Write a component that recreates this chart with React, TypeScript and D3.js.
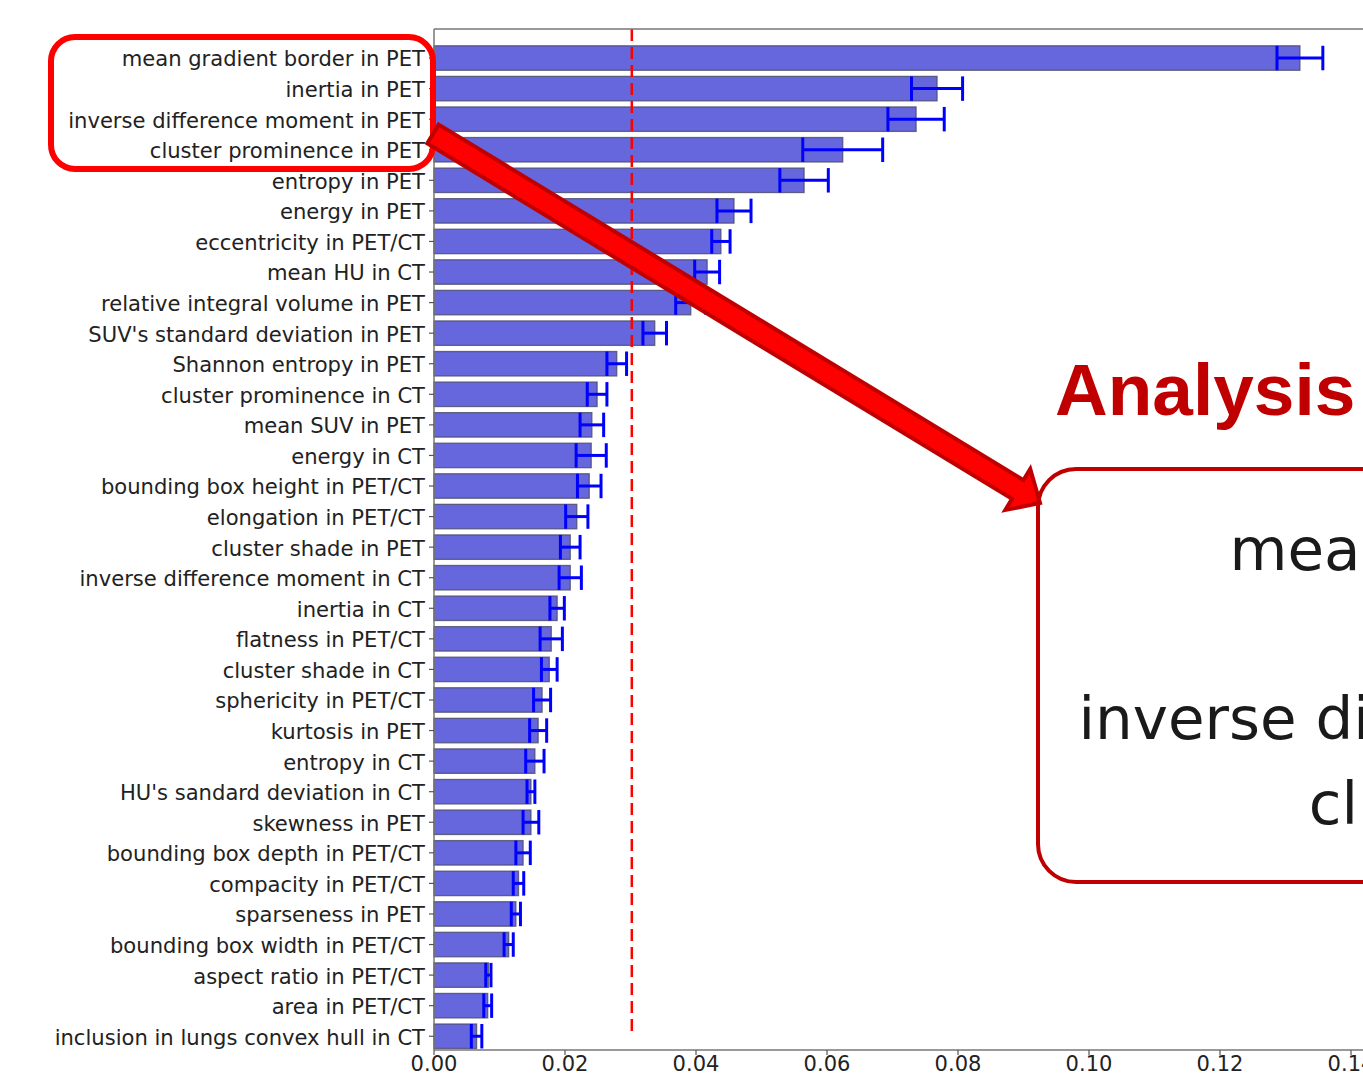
import React from 'react';
import * as d3 from 'd3';

// feature importances (mean decrease)
const features = [
  'mean gradient border in PET',
  'inertia in PET',
  'inverse difference moment in PET',
  'cluster prominence in PET',
  'entropy in PET',
  'energy in PET',
  'eccentricity in PET/CT',
  'mean HU in CT',
  'relative integral volume in PET',
  "SUV's standard deviation in PET",
  'Shannon entropy in PET',
  'cluster prominence in CT',
  'mean SUV in PET',
  'energy in CT',
  'bounding box height in PET/CT',
  'elongation in PET/CT',
  'cluster shade in PET',
  'inverse difference moment in CT',
  'inertia in CT',
  'flatness in PET/CT',
  'cluster shade in CT',
  'sphericity in PET/CT',
  'kurtosis in PET',
  'entropy in CT',
  "HU's sandard deviation in CT",
  'skewness in PET',
  'bounding box depth in PET/CT',
  'compacity in PET/CT',
  'sparseness in PET',
  'bounding box width in PET/CT',
  'aspect ratio in PET/CT',
  'area in PET/CT',
  'inclusion in lungs convex hull in CT',
];

const importance = [
  0.1322, 0.0768, 0.0736, 0.0624, 0.0565, 0.0458, 0.0438, 0.0417, 0.0392, 0.0337,
  0.0279, 0.0249, 0.0241, 0.0240, 0.0237, 0.0218, 0.0208, 0.0208, 0.0188, 0.0179,
  0.0176, 0.0165, 0.0159, 0.0154, 0.0148, 0.0148, 0.0136, 0.0129, 0.0125, 0.0114,
  0.0083, 0.0082, 0.0065,
];

const errors = [
  0.0035, 0.0039, 0.0043, 0.0061, 0.0037, 0.0026, 0.0014, 0.0019, 0.0023, 0.0018,
  0.0015, 0.0015, 0.0018, 0.0023, 0.0018, 0.0017, 0.0015, 0.0017, 0.0011, 0.0017,
  0.0012, 0.0013, 0.0013, 0.0014, 0.0006, 0.0012, 0.0011, 0.0008, 0.0007, 0.0007,
  0.0004, 0.0006, 0.0008,
];

const xTicks = [0, 0.02, 0.04, 0.06, 0.08, 0.1, 0.12, 0.14];
const threshold = 0.0302;
const highlighted = features.slice(0, 4);

const W = 1363;
const H = 1073;
const font = 'DejaVu Sans, Verdana, sans-serif';

export default function App() {
  const left = 434;
  const top = 29;
  const bottom = 1050;

  const x = d3.scaleLinear().domain([0, 0.14]).range([left, 1351]);
  const y = d3.scaleLinear().domain([-0.95, 32.45]).range([top, bottom]);
  const barH = (y(1) - y(0)) * 0.8;
  const capH = barH / 2;

  // big red arrow from the label box to the zoom box
  const p0 = [433, 134];
  const p1 = [1040, 503];
  const ang = Math.atan2(p1[1] - p0[1], p1[0] - p0[0]);
  const len = Math.hypot(p1[0] - p0[0], p1[1] - p0[1]);
  const shaftW = 11;
  const headW = 24;
  const headL = 26;
  const arrowPts = [
    [0, -shaftW], [len - headL, -shaftW], [len - headL, -headW], [len, 0],
    [len - headL, headW], [len - headL, shaftW], [0, shaftW],
  ].map(([u, v]) => [
    p0[0] + u * Math.cos(ang) - v * Math.sin(ang),
    p0[1] + u * Math.sin(ang) + v * Math.cos(ang),
  ]);

  const lineGap = 84.5;

  return (
    <svg width={W} height={H} style={{position: 'absolute', left: 0, top: 0, background: '#fff'}}
         fontFamily={font}>
      <rect width={W} height={H} fill="#fff"/>

      {/* bars */}
      {importance.map((v, i) => (
        <rect key={'b' + i} x={x(0)} y={y(i) - barH / 2} width={x(v) - x(0)} height={barH}
              fill="#6666dd" stroke="#4a4a6a" strokeOpacity={0.8} strokeWidth={1.3}/>
      ))}

      {/* error bars */}
      {importance.map((v, i) => (
        <g key={'e' + i} stroke="#0000ff" strokeWidth={3}>
          <line x1={x(v - errors[i])} x2={x(v + errors[i])} y1={y(i)} y2={y(i)}/>
          <line x1={x(v - errors[i])} x2={x(v - errors[i])} y1={y(i) - capH} y2={y(i) + capH}/>
          <line x1={x(v + errors[i])} x2={x(v + errors[i])} y1={y(i) - capH} y2={y(i) + capH}/>
        </g>
      ))}

      {/* threshold */}
      <line x1={x(threshold)} x2={x(threshold)} y1={top} y2={y(32)} stroke="#ff0000"
            strokeWidth={2.5} strokeDasharray="12,6"/>

      {/* spines */}
      <g stroke="#777" strokeWidth={1.5} fill="none">
        <line x1={left} x2={left} y1={top} y2={bottom}/>
        <line x1={left} x2={W} y1={top} y2={top}/>
        <line x1={left} x2={W} y1={bottom} y2={bottom}/>
      </g>

      {/* y ticks and labels */}
      {features.map((f, i) => (
        <g key={'l' + i}>
          <line x1={left - 5} x2={left} y1={y(i)} y2={y(i)} stroke="#555" strokeWidth={1.2}/>
          <text x={left - 9} y={y(i)} dy="0.4em" textAnchor="end" fontSize={21.1} fill="#222">{f}</text>
        </g>
      ))}

      {/* x ticks */}
      {xTicks.map(t => (
        <g key={'t' + t}>
          <line x1={x(t)} x2={x(t)} y1={bottom} y2={bottom + 5} stroke="#555" strokeWidth={1.2}/>
          <text x={x(t)} y={bottom + 21} textAnchor="middle" fontSize={21} fill="#222">
            {d3.format('.2f')(t)}
          </text>
        </g>
      ))}

      {/* highlight box around the top four labels */}
      <rect x={51} y={37} width={382} height={132} rx={24} fill="none" stroke="#ff0000" strokeWidth={6}/>

      <polygon points={arrowPts.map(p => p.join(',')).join(' ')} fill="#ff0000" stroke="#c00000"
               strokeWidth={4} strokeLinejoin="miter"/>

      {/* zoomed callout */}
      <text x={1055} y={415} fontFamily="Liberation Sans, Arial, sans-serif" fontWeight="bold"
            fontSize={73} fill="#c00000">Analysis</text>
      <rect x={1038} y={469} width={500} height={413} rx={38} fill="none"
            stroke="#c00000" strokeWidth={4}/>
      {highlighted.map((f, i) => (
        <text key={'z' + i} x={2085} y={570 + i * lineGap} textAnchor="end" fontSize={59.5} fill="#1a1a1a">{f}</text>
      ))}
    </svg>
  );
}
